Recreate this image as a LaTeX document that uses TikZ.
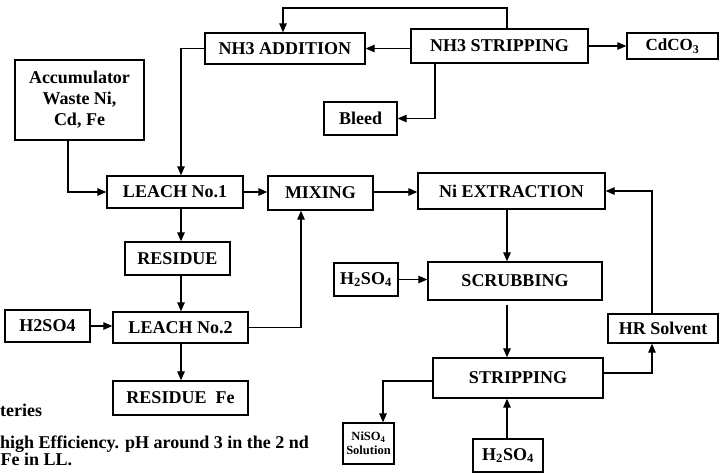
\documentclass[tikz,border=0pt]{standalone}
\usepackage{fontspec}
\setmainfont{Liberation Serif}
\usetikzlibrary{arrows.meta}
\begin{document}
\begin{tikzpicture}[x=1pt,y=-1pt,
  box/.style={draw, line width=1.3pt, inner sep=0pt, align=center,
    font=\fontsize{18}{21}\selectfont\bfseries},
  small/.style={font=\fontsize{12.5}{14}\selectfont\bfseries},
  sz/.style 2 args={minimum width=#1pt, minimum height=#2pt},
  link/.style={line width=1.2pt, -{Triangle[length=9pt,width=7.5pt]}},
  note/.style={anchor=base west, inner sep=0pt,
    font=\fontsize{18}{21}\selectfont\bfseries}]
\useasboundingbox (0,0) rectangle (720,475);

% process boxes
\node[box, sz={129}{80}] (accum) at (79.5,100) {Accumulator\\Waste Ni,\\Cd, Fe};
\node[box, sz={160}{31}] (add) at (285,48.5) {NH3 ADDITION};
\node[box, sz={177}{34}] (strip) at (499.5,46) {NH3 STRIPPING};
\node[box, sz={91}{26}, font=\fontsize{17}{19}\selectfont\bfseries] (cd) at (672.5,46) {\raisebox{-2pt}{CdCO\textsubscript{3}}};
\node[box, sz={73}{33}] (bleed) at (360.5,118.5) {Bleed};
\node[box, sz={136}{32}] (leach1) at (175,192) {LEACH No.1};
\node[box, sz={105}{34}] (mixing) at (320.5,193) {MIXING};
\node[box, sz={187}{36}] (niext) at (511.5,191) {Ni EXTRACTION};
\node[box, sz={105}{33}] (residue) at (177.5,258.5) {RESIDUE};
\node[box, sz={135}{31}] (leach2) at (180.5,327.5) {LEACH No.2};
\node[box, sz={85}{32}] (h2left) at (47.5,326) {H2SO4};
\node[box, sz={135}{34}] (resfe) at (180.5,398) {RESIDUE\enspace Fe};
\node[box, sz={64}{33}] (h2mid) at (366,279.5) {H\textsubscript{2}SO\textsubscript{4}};
\node[box, sz={174}{38}] (scrub) at (515,281) {SCRUBBING};
\node[box, sz={170}{40}] (stripping) at (518,378) {STRIPPING};
\node[box, sz={110}{29}] (hr) at (663,328.5) {HR Solvent};
\node[box, small, sz={51}{41}] (niso) at (368.5,443.5) {NiSO\textsubscript{4}\\Solution};
\node[box, sz={70}{33}] (h2bot) at (508,455.5) {H\textsubscript{2}SO\textsubscript{4}};

% notes along the lower left edge
\node[note] (note1) at (0,416) {teries};
\node[note] (note2) at (0,448) {high Efficiency. pH around 3 in the 2 nd};
\node[note] (note3) at (0.5,465) {Fe in LL.};

% columns and turning points of the connectors
\coordinate (topr) at (507,8);
\coordinate (topl) at (283,8);
\coordinate (bleedcol) at (435,0);
\coordinate (accol) at (68,0);
\coordinate (addturn) at (181,0);
\coordinate (mixcol) at (301,0);
\coordinate (midcol) at (507,0);
\coordinate (hrcol) at (652,0);
\coordinate (nisocol) at (383,0);

% ammonia loop
\draw[link] (strip.north -| topr) -- (topr) -- (topl) -- (add.north -| topl);
\draw[link] (strip.west |- add.east) -- (add.east);
\draw[link] (strip.east) -- (cd.west);
\draw[link] (strip.south -| bleedcol) |- (bleed.east);
\draw[link] (add.west) -| (leach1.north -| addturn);

% leaching
\draw[link] (accum.south -| accol) |- (leach1.west);
\draw[link] (leach1.east) -- (mixing.west |- leach1.east);
\draw[link] (leach1.south -| addturn) -- (residue.north -| addturn);
\draw[link] (residue.south -| addturn) -- (leach2.north -| addturn);
\draw[link] (leach2.south -| addturn) -- (resfe.north -| addturn);
\draw[link] (h2left.east) -- (leach2.west |- h2left.east);
\draw[link] (leach2.east) -| (mixing.south -| mixcol);

% nickel extraction circuit
\draw[link] (mixing.east |- leach1.east) -- (niext.west |- leach1.east);
\draw[link] (niext.south -| midcol) -- (scrub.north -| midcol);
\draw[link] (h2mid.east) -- (scrub.west |- h2mid.east);
\draw[link, shorten <=4pt] (scrub.south -| midcol) -- (stripping.north -| midcol);
\draw[link] ([yshift=5pt]stripping.east) -| (hr.south -| hrcol);
\draw[link] (hr.north -| hrcol) |- (niext.east);
\draw[link] ([yshift=-3pt]stripping.west) -| (niso.north -| nisocol);
\draw[link] (h2bot.north -| midcol) -- (stripping.south -| midcol);
\end{tikzpicture}
\end{document}
